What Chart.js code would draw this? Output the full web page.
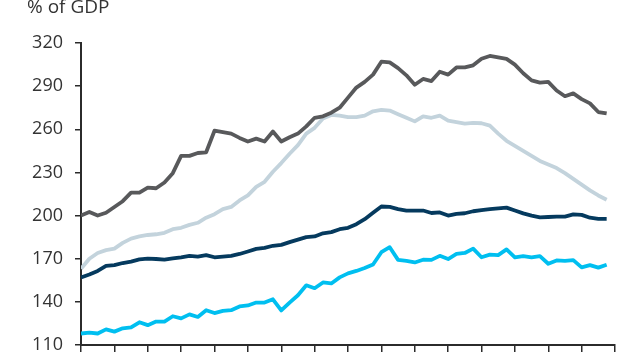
<!DOCTYPE html>
<html>
<head>
<meta charset="utf-8">
<script src="https://cdn.jsdelivr.net/npm/chart.js@4"></script>
<style>
  html, body { margin: 0; padding: 0; background: #ffffff; }
  #wrap { width: 640px; height: 360px; }
</style>
</head>
<body>
<div id="wrap"><canvas id="c" width="640" height="360"></canvas></div>
<script>
// Quarterly observations; x-axis tick marks at each year boundary (every 4 quarters)
const unitLabel = '% of GDP';
const yTicks = [110, 140, 170, 200, 230, 260, 290, 320];

const seriesDarkGray = [
  200, 202.5, 200, 202, 206, 210, 216, 216, 219.5, 219, 223, 229.5, 241.5, 241.5, 243.5, 244,
  259, 258, 257, 254, 251.5, 253.5, 251.5, 258.5, 251.5, 254.5, 257, 262, 268, 269, 271.5, 275,
  282, 289, 293, 298, 307, 306.5, 302.5, 297.5, 291, 295, 293.5, 300, 298, 303, 303, 304.5,
  309, 311, 310, 309, 305, 299, 294, 292.5, 293, 287, 283, 285, 281, 278, 272, 271
];
const seriesLightGray = [
  163, 170, 174, 176, 177, 181, 184, 185.5, 186.5, 187, 188, 190.5, 191.5, 193.5, 195, 198.5,
  201, 204.5, 206, 210.5, 214, 220, 223.5, 230.5, 236.5, 243, 249, 257, 261, 267.5, 270, 269.5,
  268.5, 268.5, 269.5, 272.5, 273.5, 273, 270.5, 268, 265.5, 269, 268, 269.5, 266, 265, 264, 264.5,
  264.2, 262.5, 257, 252, 248.5, 245, 241.5, 238, 235.5, 233, 229.5, 225.5, 221.5, 217.5, 214, 211
];
const seriesNavy = [
  157, 159, 161.5, 165, 165.5, 167, 168, 169.5, 170, 169.8, 169.3, 170.2, 171, 172, 171.5, 172.5,
  171, 171.5, 172, 173.3, 175, 176.8, 177.5, 179, 179.6, 181.5, 183.3, 185, 185.5, 187.7, 188.5, 190.5,
  191.5, 194, 197.5, 202, 206.3, 206, 204.5, 203.5, 203.5, 203.5, 201.8, 202.2, 200, 201.2, 201.6, 203,
  203.8, 204.5, 205, 205.5, 203.5, 201.5, 200, 198.8, 199, 199.3, 199.3, 200.8, 200.5, 198.5, 197.7, 197.7
];
const seriesCyan = [
  118, 118.6, 118, 120.9, 119.3, 121.6, 122.2, 125.8, 123.8, 126.3, 126.3, 130, 128.5, 131.3, 129.5, 134.2,
  132.2, 133.7, 134.2, 136.8, 137.5, 139.5, 139.5, 141.8, 134, 139.5, 144.6, 151.5, 149.5, 153.5, 152.8, 157,
  159.8, 161.5, 163.5, 166, 174.5, 178, 169.2, 168.5, 167.4, 169.3, 169.2, 172, 169.8, 173.3, 174, 177,
  171, 172.8, 172.5, 176.5, 171, 171.8, 171, 171.8, 166.5, 168.8, 168.5, 169, 164, 165.5, 163.8, 165.8
];
const quartersPerYear = 4;
const yearsOnAxis = 16;

function toPoints(arr) { return arr.map((v, i) => ({ x: i, y: v })); }

const FONT = '"Open Sans", "Noto Sans", sans-serif';
const TEXT = '#333333';
const AXIS = '#2b2b2b';

const unitTitle = {
  id: 'unitTitle',
  afterDraw(chart) {
    const ctx = chart.ctx;
    ctx.save();
    ctx.font = '19px ' + FONT;
    ctx.fillStyle = TEXT;
    ctx.textBaseline = 'alphabetic';
    ctx.textAlign = 'left';
    ctx.fillText(unitLabel, 27, 13);
    ctx.restore();
  }
};

const mk = (data, color) => ({
  data: toPoints(data),
  borderColor: color,
  backgroundColor: color,
  borderWidth: 3.8,
  pointRadius: 0,
  tension: 0,
  fill: false,
  borderJoinStyle: 'round',
  borderCapStyle: 'butt'
});

new Chart(document.getElementById('c'), {
  type: 'line',
  data: {
    datasets: [
      mk(seriesDarkGray, '#58595b'),
      mk(seriesLightGray, '#c3d3dc'),
      mk(seriesNavy, '#053a5e'),
      mk(seriesCyan, '#00bff0')
    ]
  },
  options: {
    responsive: false,
    animation: false,
    events: [],
    layout: { padding: { left: 0, right: 25, top: 43, bottom: 8 } },
    plugins: { legend: { display: false }, tooltip: { enabled: false }, title: { display: false } },
    scales: {
      x: {
        type: 'linear',
        min: 0,
        max: quartersPerYear * yearsOnAxis,
        ticks: { display: false, stepSize: quartersPerYear },
        afterFit: (s) => { s.height = 7; s.paddingLeft = 0; s.paddingRight = 0; },
        grid: { drawOnChartArea: false, drawTicks: true, tickLength: 7, color: AXIS, lineWidth: 1.5 },
        border: { display: true, color: AXIS, width: 2 }
      },
      y: {
        min: 110,
        max: 320,
        afterBuildTicks: (s) => { s.ticks = yTicks.map(v => ({ value: v })); },
        afterFit: (s) => { s.width = 81; s.paddingTop = 0; s.paddingBottom = 0; },
        ticks: { color: TEXT, font: { size: 18, family: FONT }, padding: 12 },
        grid: { drawOnChartArea: false, drawTicks: true, tickLength: 6, color: AXIS, lineWidth: 1.5 },
        border: { display: true, color: AXIS, width: 2 }
      }
    }
  },
  plugins: [unitTitle]
});
</script>
</body>
</html>
